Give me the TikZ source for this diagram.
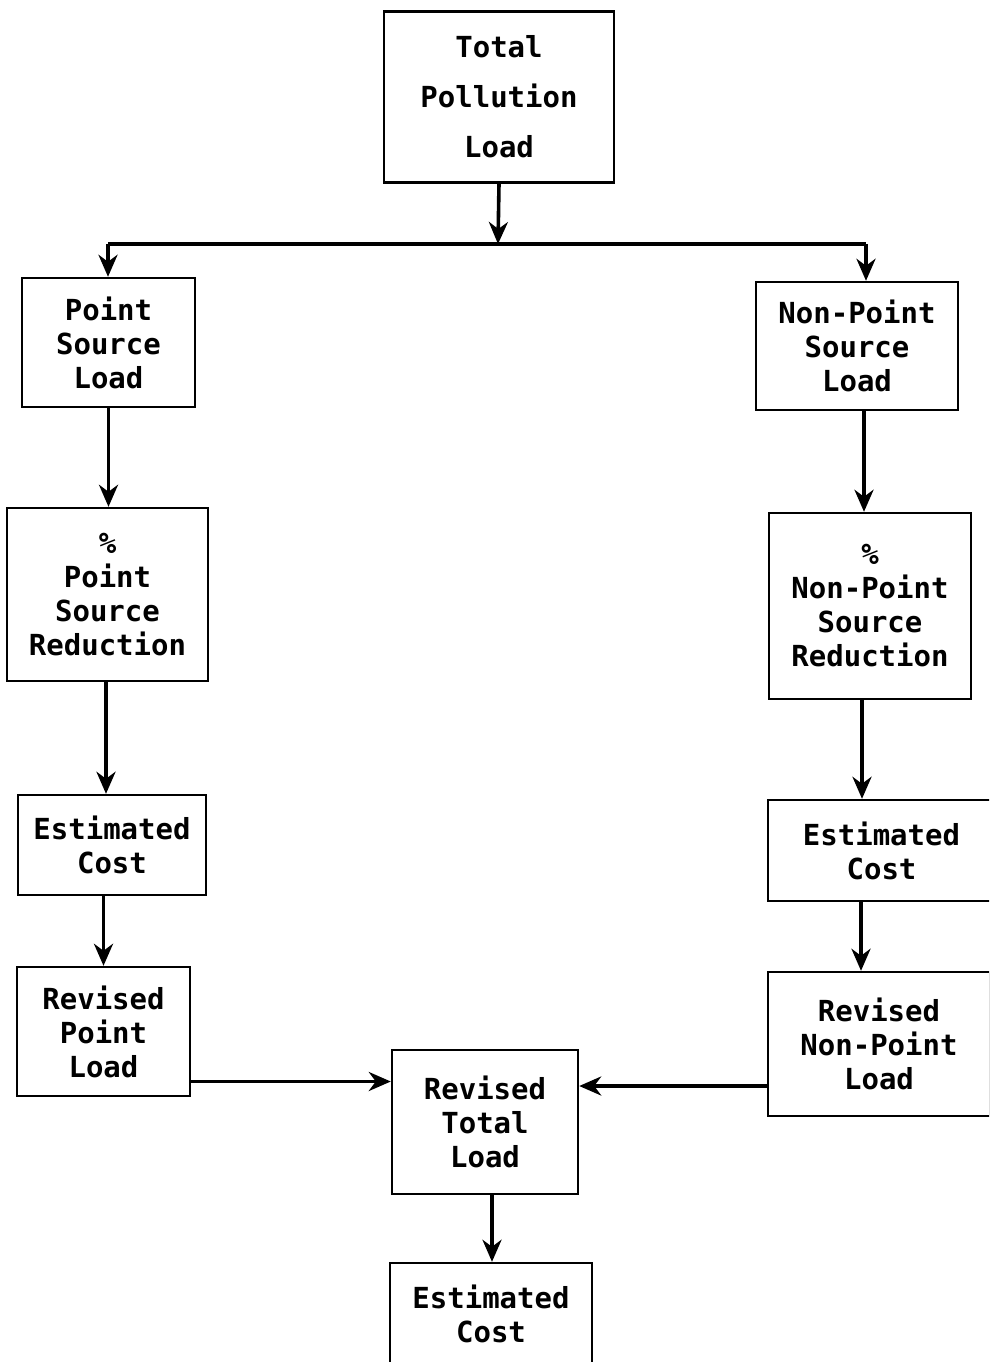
\documentclass[tikz,border=0pt]{standalone}
\usepackage{fontspec}
\newfontfamily\boxfont{DejaVu Sans Mono}
\usetikzlibrary{arrows.meta,calc}
\begin{document}
\begin{tikzpicture}[x=1pt,y=-1pt,
  box/.style={draw,line width=2.4pt,inner sep=0pt,align=center,
    font=\boxfont\bfseries\fontsize{29}{34}\selectfont},
  conn/.style={line width=3.6pt,-{Stealth[length=22pt,width=19pt,inset=7pt]}},
  plain/.style={line width=3.6pt}]
\useasboundingbox (0,0) rectangle (989,1362);
\clip (0,0) rectangle (989,1362);
\fill[white] (0,0) rectangle (989,1362);
% nodes
\node[box,minimum width=230pt,minimum height=171pt,
  font=\boxfont\bfseries\fontsize{29}{50}\selectfont] (tot) at (499,97) {Total\\Pollution\\Load};
\node[box,minimum width=173pt,minimum height=129pt] (psl) at (108.5,342.5) {Point\\Source\\Load};
\node[box,minimum width=202pt,minimum height=128pt] (npsl) at (857,346) {Non-Point\\Source\\Load};
\node[box,minimum width=201pt,minimum height=173pt] (psr) at (107.5,594.5) {\%\\Point\\Source\\Reduction};
\node[box,minimum width=202pt,minimum height=186pt] (npsr) at (870,606) {\%\\Non-Point\\Source\\Reduction};
\node[box,minimum width=188pt,minimum height=100pt] (ecl) at (112,845) {Estimated\\Cost};
\node[box,minimum width=227pt,minimum height=101pt] (ecr) at (881.5,850.5) {Estimated\\Cost};
\node[box,minimum width=173pt,minimum height=129pt] (rpl) at (103.5,1031.5) {Revised\\Point\\Load};
\node[box,minimum width=222pt,minimum height=144pt] (rnpl) at (879,1044) {Revised\\Non-Point\\Load};
\node[box,minimum width=186pt,minimum height=144pt] (rtl) at (485,1122) {Revised\\Total\\Load};
\node[box,minimum width=202pt,minimum height=102pt] (ecb) at (491,1314) {Estimated\\Cost};
% connectors
\coordinate (split) at (498,244);
\coordinate (jl) at (108,244);
\coordinate (jr) at (866,244);
\draw[conn] (tot.south) -- (split);
\draw[plain] (jl) -- (jr);
\draw[conn] (jl) -- (jl |- psl.north);
\draw[conn] (jr) -- (jr |- npsl.north);
\draw[conn] (psl.south) -- (psl.south |- psr.north);
\draw[conn] ([xshift=7pt]npsl.south) -- ([xshift=7pt]npsl.south |- npsr.north);
\draw[conn] ([xshift=-1.5pt]psr.south) -- ([xshift=-1.5pt]psr.south |- ecl.north);
\draw[conn] ([xshift=-8pt]npsr.south) -- ([xshift=-8pt]npsr.south |- ecr.north);
\draw[conn] (rpl.north |- ecl.south) -- (rpl.north);
\draw[conn] ([xshift=-18pt]rnpl.north |- ecr.south) -- ([xshift=-18pt]rnpl.north);
\draw[conn] ([yshift=-50pt]rpl.east) -- ([yshift=-50pt]rpl.east -| rtl.west);
\draw[conn] ([yshift=-42pt]rnpl.west) -- ([yshift=-42pt]rnpl.west -| rtl.east);
\draw[conn] ([xshift=7pt]rtl.south) -- ([xshift=7pt]rtl.south |- ecb.north);
\end{tikzpicture}
\end{document}
